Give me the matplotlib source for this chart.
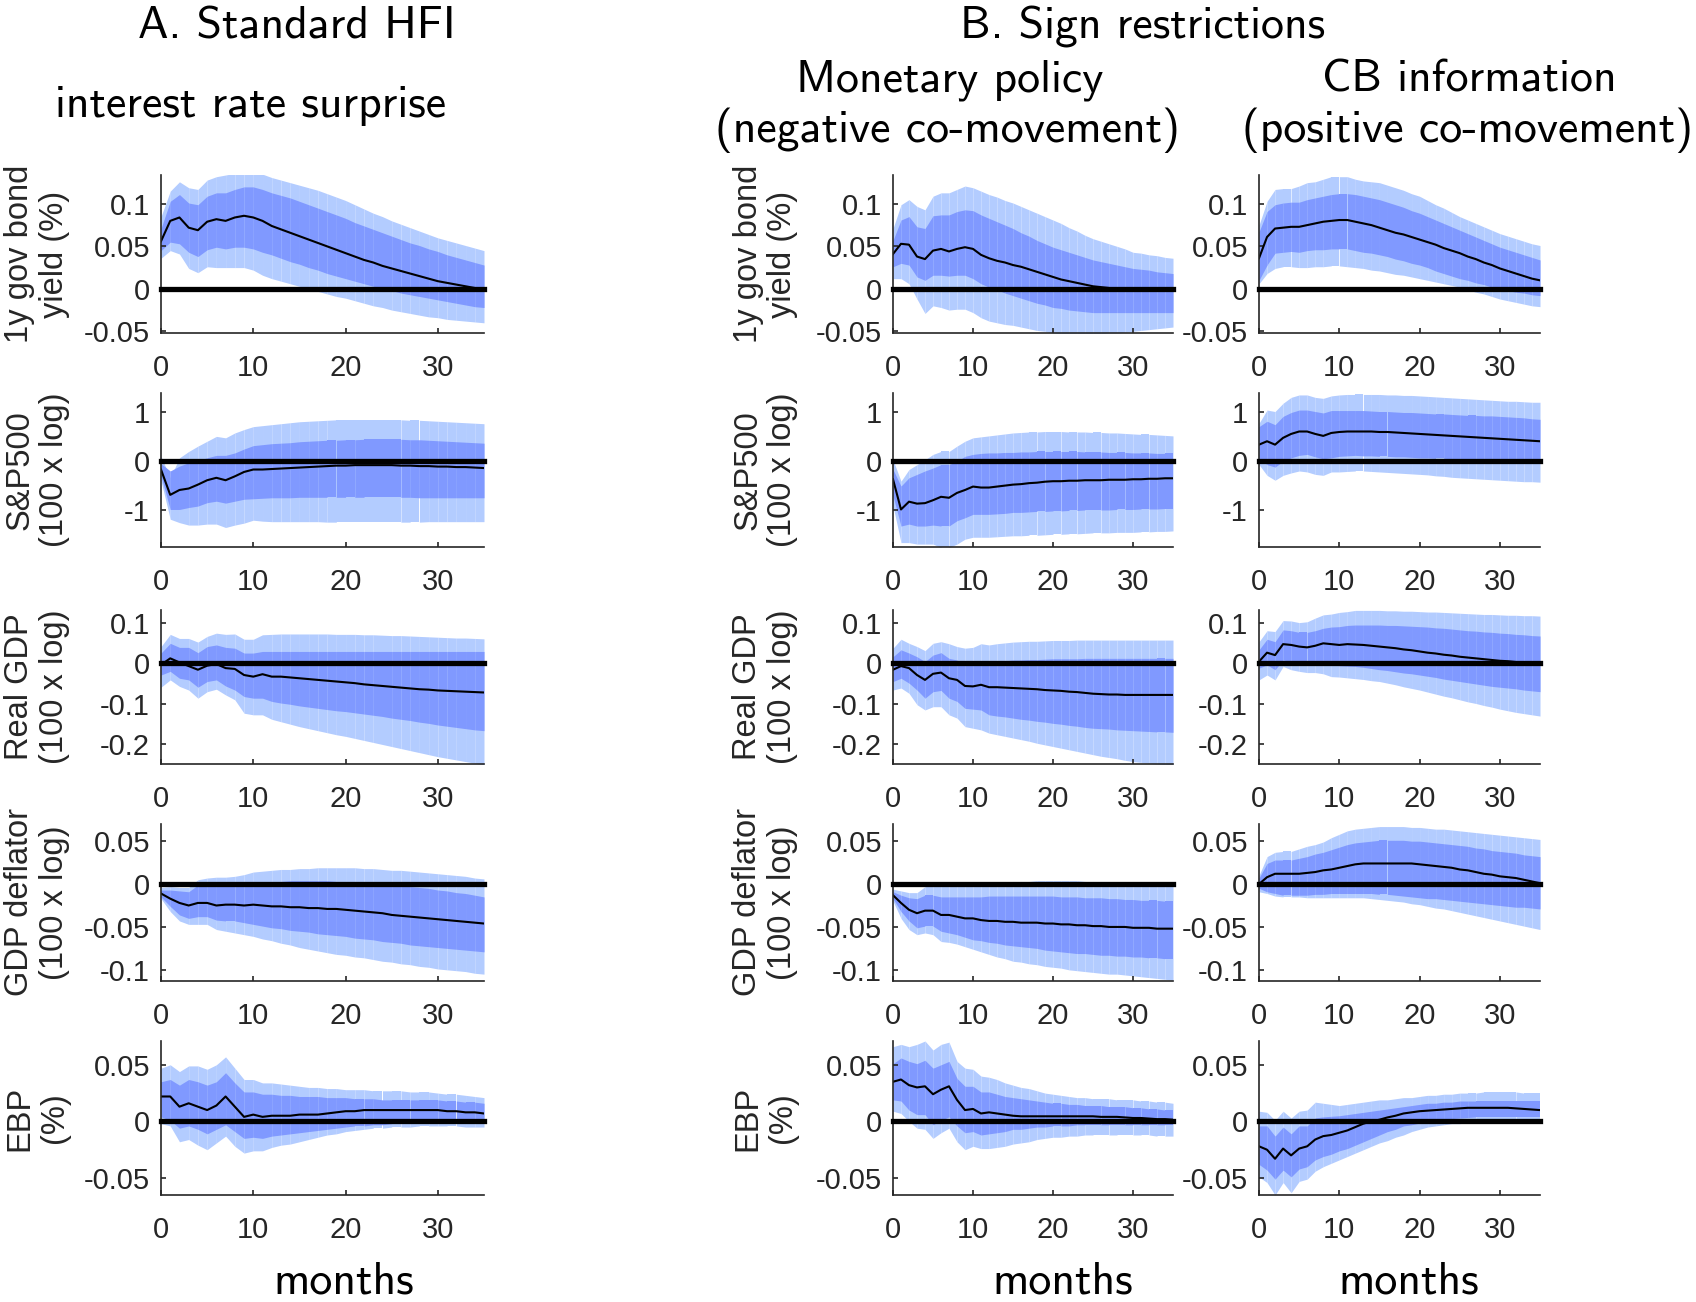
import numpy as np
import matplotlib
matplotlib.use("Agg")
import matplotlib.pyplot as plt

plt.rcParams["font.family"] = "Liberation Sans"

# horizon in months
months = np.arange(36)

# ---------------- A. Standard HFI (interest rate surprise) ----------------
a_gs1_med = [0.056, 0.080, 0.084, 0.072, 0.069, 0.079, 0.082, 0.080, 0.084, 0.086, 0.084, 0.080, 0.074, 0.070, 0.066, 0.062, 0.058, 0.054, 0.050, 0.046, 0.042, 0.038, 0.034, 0.031, 0.027, 0.024, 0.021, 0.018, 0.015, 0.012, 0.009, 0.007, 0.005, 0.003, 0.001, 0.000]
a_gs1_hi68 = [0.071, 0.103, 0.111, 0.101, 0.099, 0.109, 0.113, 0.113, 0.117, 0.120, 0.120, 0.117, 0.113, 0.110, 0.107, 0.103, 0.099, 0.095, 0.091, 0.087, 0.083, 0.078, 0.074, 0.070, 0.066, 0.062, 0.058, 0.054, 0.051, 0.047, 0.044, 0.040, 0.037, 0.034, 0.031, 0.028]
a_gs1_lo68 = [0.045, 0.055, 0.053, 0.043, 0.038, 0.046, 0.049, 0.047, 0.049, 0.049, 0.047, 0.043, 0.040, 0.036, 0.032, 0.029, 0.025, 0.022, 0.018, 0.015, 0.012, 0.009, 0.006, 0.003, 0.000, -0.002, -0.005, -0.007, -0.009, -0.011, -0.013, -0.015, -0.017, -0.019, -0.021, -0.022]
a_gs1_hi90 = [0.085, 0.115, 0.126, 0.119, 0.117, 0.128, 0.132, 0.134, 0.136, 0.137, 0.137, 0.135, 0.131, 0.128, 0.125, 0.122, 0.119, 0.116, 0.112, 0.108, 0.104, 0.099, 0.094, 0.089, 0.085, 0.080, 0.076, 0.072, 0.068, 0.064, 0.060, 0.057, 0.054, 0.051, 0.048, 0.045]
a_gs1_lo90 = [0.036, 0.045, 0.041, 0.024, 0.019, 0.026, 0.025, 0.025, 0.025, 0.025, 0.022, 0.016, 0.012, 0.009, 0.006, 0.003, 0.000, -0.003, -0.006, -0.009, -0.011, -0.014, -0.017, -0.020, -0.022, -0.025, -0.027, -0.029, -0.031, -0.033, -0.034, -0.036, -0.037, -0.038, -0.039, -0.040]

a_sp_med = [-0.17, -0.69, -0.59, -0.56, -0.48, -0.39, -0.34, -0.39, -0.31, -0.22, -0.17, -0.17, -0.16, -0.15, -0.14, -0.13, -0.12, -0.11, -0.10, -0.09, -0.09, -0.08, -0.08, -0.08, -0.08, -0.08, -0.09, -0.09, -0.10, -0.10, -0.11, -0.11, -0.12, -0.12, -0.13, -0.14]
a_sp_hi68 = [-0.05, -0.20, -0.10, -0.03, 0.02, 0.07, 0.12, 0.12, 0.17, 0.25, 0.32, 0.34, 0.36, 0.37, 0.38, 0.40, 0.41, 0.42, 0.43, 0.43, 0.44, 0.44, 0.45, 0.45, 0.45, 0.45, 0.45, 0.44, 0.44, 0.43, 0.42, 0.41, 0.40, 0.39, 0.38, 0.37]
a_sp_lo68 = [-0.30, -0.99, -0.99, -0.95, -0.92, -0.85, -0.82, -0.86, -0.82, -0.78, -0.77, -0.76, -0.75, -0.75, -0.75, -0.74, -0.74, -0.74, -0.74, -0.74, -0.74, -0.74, -0.74, -0.74, -0.74, -0.74, -0.74, -0.74, -0.75, -0.75, -0.75, -0.75, -0.75, -0.75, -0.75, -0.75]
a_sp_hi90 = [0.10, -0.34, 0.07, 0.20, 0.31, 0.41, 0.51, 0.48, 0.58, 0.65, 0.71, 0.73, 0.75, 0.77, 0.79, 0.81, 0.82, 0.83, 0.84, 0.85, 0.85, 0.85, 0.85, 0.85, 0.85, 0.85, 0.85, 0.84, 0.84, 0.83, 0.82, 0.81, 0.80, 0.79, 0.78, 0.77]
a_sp_lo90 = [-0.40, -1.19, -1.26, -1.31, -1.31, -1.29, -1.29, -1.36, -1.31, -1.27, -1.21, -1.23, -1.24, -1.24, -1.24, -1.24, -1.24, -1.24, -1.25, -1.25, -1.25, -1.25, -1.25, -1.25, -1.25, -1.25, -1.25, -1.25, -1.25, -1.24, -1.24, -1.24, -1.24, -1.24, -1.24, -1.24]

a_gdp_med = [-0.004, 0.012, 0.002, -0.007, -0.016, -0.006, -0.002, -0.012, -0.014, -0.029, -0.033, -0.027, -0.033, -0.033, -0.035, -0.037, -0.039, -0.041, -0.043, -0.045, -0.047, -0.049, -0.052, -0.054, -0.056, -0.058, -0.060, -0.062, -0.064, -0.065, -0.067, -0.068, -0.069, -0.070, -0.071, -0.072]
a_gdp_hi68 = [0.025, 0.049, 0.039, 0.039, 0.026, 0.041, 0.045, 0.039, 0.037, 0.025, 0.025, 0.029, 0.029, 0.029, 0.029, 0.029, 0.029, 0.029, 0.029, 0.029, 0.029, 0.029, 0.029, 0.029, 0.029, 0.029, 0.029, 0.029, 0.029, 0.029, 0.029, 0.029, 0.029, 0.029, 0.029, 0.029]
a_gdp_lo68 = [-0.029, -0.020, -0.037, -0.041, -0.059, -0.045, -0.041, -0.056, -0.066, -0.082, -0.086, -0.086, -0.094, -0.098, -0.101, -0.105, -0.108, -0.111, -0.114, -0.117, -0.119, -0.122, -0.125, -0.128, -0.131, -0.135, -0.138, -0.141, -0.145, -0.148, -0.152, -0.155, -0.158, -0.161, -0.164, -0.166]
a_gdp_hi90 = [0.041, 0.071, 0.061, 0.061, 0.052, 0.066, 0.074, 0.071, 0.072, 0.059, 0.059, 0.070, 0.071, 0.072, 0.072, 0.072, 0.072, 0.072, 0.072, 0.071, 0.071, 0.071, 0.070, 0.070, 0.069, 0.068, 0.068, 0.067, 0.066, 0.065, 0.064, 0.063, 0.062, 0.062, 0.061, 0.060]
a_gdp_lo90 = [-0.059, -0.041, -0.057, -0.066, -0.086, -0.070, -0.064, -0.078, -0.090, -0.123, -0.127, -0.127, -0.138, -0.144, -0.150, -0.156, -0.161, -0.166, -0.171, -0.176, -0.180, -0.185, -0.190, -0.195, -0.200, -0.205, -0.210, -0.215, -0.220, -0.225, -0.230, -0.234, -0.238, -0.242, -0.246, -0.250]

a_defl_med = [-0.011, -0.017, -0.022, -0.025, -0.022, -0.022, -0.025, -0.024, -0.024, -0.025, -0.024, -0.025, -0.026, -0.026, -0.027, -0.027, -0.028, -0.028, -0.029, -0.029, -0.030, -0.031, -0.032, -0.033, -0.034, -0.036, -0.037, -0.038, -0.039, -0.040, -0.041, -0.042, -0.043, -0.044, -0.045, -0.046]
a_defl_hi68 = [-0.007, -0.007, -0.008, -0.009, -0.001, 0.001, 0.002, 0.002, 0.002, 0.003, 0.003, 0.003, 0.003, 0.003, 0.004, 0.004, 0.004, 0.004, 0.004, 0.003, 0.003, 0.003, 0.002, 0.002, 0.001, -0.001, -0.002, -0.003, -0.004, -0.005, -0.007, -0.008, -0.010, -0.011, -0.013, -0.015]
a_defl_lo68 = [-0.015, -0.026, -0.036, -0.040, -0.038, -0.038, -0.042, -0.043, -0.043, -0.045, -0.047, -0.049, -0.051, -0.052, -0.054, -0.055, -0.056, -0.058, -0.059, -0.060, -0.061, -0.063, -0.064, -0.065, -0.067, -0.068, -0.069, -0.071, -0.072, -0.073, -0.074, -0.075, -0.076, -0.077, -0.078, -0.079]
a_defl_hi90 = [-0.004, -0.003, -0.004, -0.004, 0.005, 0.007, 0.008, 0.008, 0.009, 0.011, 0.014, 0.015, 0.016, 0.017, 0.017, 0.018, 0.018, 0.019, 0.019, 0.019, 0.019, 0.019, 0.018, 0.018, 0.017, 0.016, 0.016, 0.015, 0.014, 0.013, 0.012, 0.011, 0.010, 0.009, 0.007, 0.006]
a_defl_lo90 = [-0.017, -0.032, -0.043, -0.047, -0.047, -0.047, -0.053, -0.055, -0.057, -0.059, -0.061, -0.064, -0.066, -0.069, -0.071, -0.074, -0.076, -0.078, -0.080, -0.082, -0.083, -0.085, -0.086, -0.088, -0.090, -0.091, -0.093, -0.094, -0.096, -0.097, -0.099, -0.100, -0.101, -0.102, -0.104, -0.105]

a_ebp_med = [0.022, 0.022, 0.013, 0.016, 0.013, 0.010, 0.014, 0.022, 0.013, 0.004, 0.006, 0.004, 0.005, 0.005, 0.005, 0.006, 0.006, 0.006, 0.007, 0.008, 0.009, 0.009, 0.010, 0.010, 0.010, 0.010, 0.010, 0.010, 0.010, 0.010, 0.010, 0.009, 0.009, 0.008, 0.008, 0.007]
a_ebp_hi68 = [0.035, 0.037, 0.032, 0.037, 0.035, 0.032, 0.035, 0.043, 0.034, 0.026, 0.026, 0.024, 0.024, 0.023, 0.023, 0.022, 0.022, 0.022, 0.021, 0.021, 0.021, 0.020, 0.020, 0.020, 0.019, 0.019, 0.019, 0.019, 0.019, 0.019, 0.019, 0.018, 0.018, 0.017, 0.017, 0.016]
a_ebp_lo68 = [0.004, 0.001, -0.006, -0.004, -0.007, -0.011, -0.007, -0.003, -0.009, -0.015, -0.014, -0.015, -0.013, -0.012, -0.011, -0.010, -0.009, -0.008, -0.007, -0.006, -0.005, -0.004, -0.004, -0.003, -0.003, -0.002, -0.002, -0.002, -0.001, -0.001, -0.001, -0.001, -0.001, -0.001, -0.001, -0.001]
a_ebp_hi90 = [0.047, 0.050, 0.044, 0.049, 0.049, 0.046, 0.050, 0.057, 0.047, 0.037, 0.037, 0.034, 0.034, 0.033, 0.032, 0.031, 0.030, 0.030, 0.029, 0.029, 0.028, 0.028, 0.028, 0.027, 0.027, 0.027, 0.027, 0.026, 0.026, 0.026, 0.025, 0.024, 0.024, 0.023, 0.022, 0.021]
a_ebp_lo90 = [-0.002, -0.004, -0.018, -0.016, -0.021, -0.025, -0.019, -0.013, -0.022, -0.028, -0.026, -0.026, -0.023, -0.021, -0.020, -0.018, -0.016, -0.014, -0.012, -0.011, -0.009, -0.008, -0.007, -0.006, -0.006, -0.005, -0.005, -0.005, -0.004, -0.004, -0.004, -0.004, -0.004, -0.005, -0.005, -0.005]

# ---------------- B. Monetary policy (negative co-movement) ----------------
b_gs1_med = [0.041, 0.053, 0.052, 0.038, 0.035, 0.045, 0.047, 0.044, 0.047, 0.049, 0.047, 0.040, 0.036, 0.033, 0.031, 0.028, 0.026, 0.023, 0.020, 0.017, 0.014, 0.011, 0.009, 0.007, 0.005, 0.003, 0.002, 0.001, 0.000, -0.001, -0.001, -0.001, -0.001, -0.001, -0.001, -0.001]
b_gs1_hi68 = [0.057, 0.081, 0.085, 0.073, 0.071, 0.086, 0.087, 0.087, 0.091, 0.093, 0.092, 0.087, 0.083, 0.079, 0.075, 0.071, 0.066, 0.062, 0.057, 0.053, 0.049, 0.046, 0.043, 0.040, 0.037, 0.034, 0.032, 0.030, 0.028, 0.026, 0.024, 0.023, 0.022, 0.020, 0.019, 0.018]
b_gs1_lo68 = [0.026, 0.030, 0.028, 0.014, 0.010, 0.016, 0.016, 0.015, 0.016, 0.016, 0.012, 0.006, 0.002, -0.001, -0.005, -0.008, -0.011, -0.014, -0.017, -0.019, -0.022, -0.023, -0.025, -0.026, -0.027, -0.028, -0.028, -0.028, -0.028, -0.028, -0.028, -0.028, -0.028, -0.028, -0.028, -0.028]
b_gs1_hi90 = [0.071, 0.099, 0.105, 0.097, 0.093, 0.109, 0.113, 0.113, 0.117, 0.121, 0.119, 0.115, 0.111, 0.108, 0.104, 0.101, 0.097, 0.093, 0.089, 0.085, 0.081, 0.077, 0.072, 0.068, 0.063, 0.059, 0.056, 0.053, 0.050, 0.047, 0.043, 0.042, 0.040, 0.039, 0.037, 0.036]
b_gs1_lo90 = [0.012, 0.012, 0.006, -0.012, -0.029, -0.020, -0.022, -0.025, -0.024, -0.024, -0.028, -0.034, -0.038, -0.040, -0.042, -0.043, -0.045, -0.047, -0.049, -0.050, -0.052, -0.053, -0.053, -0.053, -0.053, -0.053, -0.053, -0.052, -0.052, -0.051, -0.050, -0.049, -0.048, -0.047, -0.046, -0.045]

b_sp_med = [-0.37, -0.99, -0.83, -0.87, -0.86, -0.80, -0.73, -0.75, -0.65, -0.59, -0.52, -0.54, -0.54, -0.52, -0.50, -0.48, -0.47, -0.45, -0.44, -0.42, -0.41, -0.41, -0.40, -0.40, -0.39, -0.39, -0.39, -0.38, -0.38, -0.38, -0.37, -0.37, -0.36, -0.36, -0.35, -0.35]
b_sp_hi68 = [-0.17, -0.51, -0.34, -0.27, -0.20, -0.14, -0.07, -0.07, 0.00, 0.10, 0.14, 0.16, 0.17, 0.17, 0.18, 0.18, 0.19, 0.19, 0.20, 0.20, 0.20, 0.20, 0.20, 0.20, 0.19, 0.19, 0.19, 0.18, 0.18, 0.18, 0.17, 0.17, 0.17, 0.16, 0.16, 0.16]
b_sp_lo68 = [-0.71, -1.33, -1.29, -1.33, -1.33, -1.31, -1.33, -1.33, -1.22, -1.16, -1.09, -1.09, -1.09, -1.08, -1.07, -1.05, -1.05, -1.04, -1.03, -1.03, -1.02, -1.02, -1.01, -1.01, -1.00, -1.00, -1.00, -1.00, -0.99, -0.99, -0.99, -0.98, -0.98, -0.98, -0.97, -0.97]
b_sp_hi90 = [0.03, -0.41, -0.17, -0.07, 0.03, 0.14, 0.20, 0.20, 0.31, 0.41, 0.48, 0.50, 0.52, 0.54, 0.56, 0.58, 0.59, 0.60, 0.60, 0.61, 0.61, 0.61, 0.60, 0.60, 0.60, 0.59, 0.59, 0.58, 0.58, 0.57, 0.56, 0.55, 0.55, 0.54, 0.53, 0.52]
b_sp_lo90 = [-0.92, -1.67, -1.67, -1.70, -1.70, -1.70, -1.77, -1.77, -1.70, -1.60, -1.56, -1.56, -1.56, -1.55, -1.54, -1.53, -1.53, -1.52, -1.52, -1.51, -1.50, -1.50, -1.49, -1.49, -1.48, -1.47, -1.47, -1.47, -1.46, -1.46, -1.46, -1.45, -1.45, -1.44, -1.44, -1.43]

b_gdp_med = [-0.016, -0.007, -0.012, -0.029, -0.041, -0.026, -0.023, -0.037, -0.041, -0.056, -0.057, -0.053, -0.059, -0.059, -0.060, -0.061, -0.062, -0.063, -0.064, -0.066, -0.067, -0.068, -0.070, -0.071, -0.073, -0.075, -0.076, -0.077, -0.077, -0.078, -0.078, -0.078, -0.078, -0.078, -0.078, -0.078]
b_gdp_hi68 = [0.016, 0.033, 0.025, 0.016, 0.004, 0.020, 0.026, 0.012, 0.008, -0.004, -0.004, 0.002, 0.004, 0.005, 0.006, 0.008, 0.008, 0.009, 0.009, 0.010, 0.011, 0.011, 0.011, 0.011, 0.012, 0.012, 0.012, 0.012, 0.012, 0.012, 0.012, 0.012, 0.012, 0.012, 0.012, 0.012]
b_gdp_lo68 = [-0.045, -0.037, -0.049, -0.066, -0.086, -0.070, -0.067, -0.086, -0.094, -0.111, -0.113, -0.115, -0.127, -0.130, -0.132, -0.135, -0.138, -0.140, -0.143, -0.145, -0.148, -0.150, -0.153, -0.155, -0.158, -0.160, -0.161, -0.162, -0.164, -0.165, -0.166, -0.167, -0.168, -0.169, -0.169, -0.170]
b_gdp_hi90 = [0.037, 0.059, 0.049, 0.041, 0.031, 0.049, 0.053, 0.048, 0.041, 0.037, 0.039, 0.048, 0.045, 0.048, 0.050, 0.052, 0.053, 0.054, 0.054, 0.055, 0.056, 0.056, 0.056, 0.057, 0.057, 0.057, 0.057, 0.057, 0.057, 0.057, 0.057, 0.057, 0.057, 0.057, 0.057, 0.057]
b_gdp_lo90 = [-0.066, -0.061, -0.074, -0.102, -0.115, -0.107, -0.107, -0.127, -0.135, -0.156, -0.160, -0.164, -0.172, -0.176, -0.180, -0.184, -0.188, -0.192, -0.197, -0.201, -0.205, -0.209, -0.213, -0.217, -0.221, -0.225, -0.229, -0.232, -0.235, -0.239, -0.242, -0.244, -0.246, -0.248, -0.249, -0.250]

b_defl_med = [-0.013, -0.022, -0.030, -0.034, -0.031, -0.031, -0.036, -0.036, -0.038, -0.040, -0.040, -0.042, -0.043, -0.043, -0.044, -0.044, -0.045, -0.045, -0.045, -0.046, -0.046, -0.047, -0.047, -0.048, -0.048, -0.049, -0.049, -0.050, -0.050, -0.050, -0.051, -0.051, -0.051, -0.052, -0.052, -0.052]
b_defl_hi68 = [-0.009, -0.013, -0.016, -0.017, -0.013, -0.013, -0.015, -0.015, -0.015, -0.015, -0.015, -0.015, -0.014, -0.014, -0.014, -0.014, -0.014, -0.014, -0.014, -0.014, -0.014, -0.015, -0.015, -0.015, -0.016, -0.016, -0.016, -0.017, -0.017, -0.018, -0.018, -0.019, -0.019, -0.019, -0.020, -0.020]
b_defl_lo68 = [-0.017, -0.032, -0.043, -0.051, -0.049, -0.049, -0.055, -0.057, -0.059, -0.062, -0.065, -0.066, -0.068, -0.069, -0.071, -0.072, -0.073, -0.074, -0.075, -0.077, -0.078, -0.079, -0.080, -0.081, -0.081, -0.082, -0.083, -0.083, -0.084, -0.084, -0.085, -0.085, -0.086, -0.086, -0.087, -0.087]
b_defl_hi90 = [-0.006, -0.008, -0.010, -0.010, -0.003, -0.002, -0.002, -0.003, -0.002, -0.002, -0.001, 0.000, 0.001, 0.001, 0.002, 0.003, 0.003, 0.003, 0.004, 0.004, 0.004, 0.004, 0.004, 0.004, 0.003, 0.003, 0.003, 0.003, 0.002, 0.002, 0.002, 0.001, 0.001, 0.000, 0.000, -0.001]
b_defl_lo90 = [-0.020, -0.040, -0.053, -0.059, -0.057, -0.059, -0.067, -0.068, -0.070, -0.073, -0.076, -0.079, -0.082, -0.085, -0.087, -0.090, -0.091, -0.093, -0.094, -0.096, -0.097, -0.098, -0.100, -0.101, -0.102, -0.103, -0.104, -0.105, -0.105, -0.106, -0.107, -0.108, -0.109, -0.110, -0.111, -0.112]

b_ebp_med = [0.035, 0.037, 0.032, 0.030, 0.031, 0.024, 0.028, 0.031, 0.019, 0.010, 0.011, 0.007, 0.008, 0.007, 0.006, 0.005, 0.0045, 0.0045, 0.0045, 0.0045, 0.0045, 0.0045, 0.0045, 0.0045, 0.0045, 0.0045, 0.004, 0.004, 0.004, 0.0035, 0.003, 0.003, 0.0025, 0.002, 0.002, 0.0015]
b_ebp_hi68 = [0.051, 0.056, 0.053, 0.051, 0.054, 0.047, 0.050, 0.053, 0.038, 0.031, 0.031, 0.026, 0.026, 0.024, 0.022, 0.021, 0.020, 0.019, 0.018, 0.017, 0.016, 0.016, 0.015, 0.015, 0.014, 0.014, 0.014, 0.013, 0.013, 0.013, 0.012, 0.012, 0.011, 0.011, 0.010, 0.010]
b_ebp_lo68 = [0.019, 0.018, 0.010, 0.006, 0.006, -0.003, 0.001, 0.004, -0.004, -0.010, -0.009, -0.012, -0.011, -0.010, -0.009, -0.007, -0.007, -0.006, -0.005, -0.005, -0.004, -0.004, -0.004, -0.003, -0.003, -0.003, -0.003, -0.003, -0.003, -0.003, -0.003, -0.003, -0.003, -0.003, -0.003, -0.003]
b_ebp_hi90 = [0.066, 0.068, 0.066, 0.068, 0.071, 0.063, 0.068, 0.070, 0.053, 0.047, 0.046, 0.040, 0.039, 0.037, 0.034, 0.032, 0.030, 0.029, 0.027, 0.025, 0.024, 0.023, 0.022, 0.021, 0.021, 0.020, 0.020, 0.020, 0.019, 0.019, 0.019, 0.018, 0.018, 0.017, 0.017, 0.016]
b_ebp_lo90 = [0.009, 0.007, 0.000, -0.006, -0.007, -0.015, -0.010, -0.006, -0.018, -0.025, -0.022, -0.024, -0.024, -0.023, -0.022, -0.020, -0.019, -0.018, -0.016, -0.015, -0.014, -0.014, -0.013, -0.013, -0.012, -0.012, -0.012, -0.012, -0.012, -0.012, -0.012, -0.012, -0.012, -0.013, -0.013, -0.013]

# ---------------- B. CB information (positive co-movement) ----------------
c_gs1_med = [0.036, 0.061, 0.071, 0.072, 0.073, 0.073, 0.075, 0.077, 0.079, 0.080, 0.081, 0.081, 0.079, 0.077, 0.075, 0.072, 0.069, 0.066, 0.064, 0.061, 0.058, 0.055, 0.052, 0.048, 0.045, 0.042, 0.038, 0.035, 0.031, 0.028, 0.024, 0.021, 0.018, 0.015, 0.012, 0.010]
c_gs1_hi68 = [0.067, 0.091, 0.099, 0.101, 0.102, 0.102, 0.105, 0.107, 0.109, 0.111, 0.112, 0.112, 0.111, 0.109, 0.107, 0.105, 0.102, 0.099, 0.096, 0.092, 0.089, 0.085, 0.081, 0.077, 0.073, 0.069, 0.065, 0.061, 0.057, 0.053, 0.049, 0.046, 0.043, 0.040, 0.037, 0.034]
c_gs1_lo68 = [0.010, 0.028, 0.042, 0.043, 0.044, 0.043, 0.045, 0.046, 0.046, 0.047, 0.047, 0.047, 0.045, 0.043, 0.042, 0.040, 0.038, 0.035, 0.033, 0.030, 0.028, 0.025, 0.021, 0.018, 0.015, 0.012, 0.010, 0.007, 0.005, 0.002, 0.000, -0.002, -0.004, -0.005, -0.007, -0.008]
c_gs1_hi90 = [0.075, 0.103, 0.117, 0.118, 0.118, 0.121, 0.125, 0.126, 0.129, 0.132, 0.132, 0.132, 0.129, 0.127, 0.126, 0.125, 0.122, 0.119, 0.116, 0.112, 0.109, 0.104, 0.099, 0.095, 0.090, 0.085, 0.081, 0.077, 0.073, 0.069, 0.065, 0.062, 0.059, 0.056, 0.053, 0.051]
c_gs1_lo90 = [0.006, 0.018, 0.024, 0.026, 0.026, 0.025, 0.025, 0.026, 0.026, 0.027, 0.027, 0.026, 0.025, 0.024, 0.022, 0.021, 0.019, 0.017, 0.016, 0.014, 0.012, 0.010, 0.008, 0.006, 0.004, 0.002, -0.001, -0.004, -0.006, -0.009, -0.012, -0.014, -0.016, -0.018, -0.020, -0.021]

c_sp_med = [0.34, 0.41, 0.34, 0.48, 0.56, 0.61, 0.61, 0.56, 0.52, 0.58, 0.60, 0.61, 0.61, 0.61, 0.61, 0.60, 0.60, 0.59, 0.58, 0.57, 0.56, 0.55, 0.54, 0.53, 0.52, 0.51, 0.50, 0.49, 0.48, 0.47, 0.46, 0.45, 0.44, 0.43, 0.42, 0.41]
c_sp_hi68 = [0.71, 0.82, 0.75, 0.92, 1.00, 1.05, 1.05, 1.02, 0.99, 1.04, 1.04, 1.04, 1.04, 1.04, 1.03, 1.02, 1.02, 1.01, 1.00, 1.00, 0.99, 0.98, 0.97, 0.97, 0.96, 0.95, 0.94, 0.94, 0.93, 0.93, 0.92, 0.91, 0.90, 0.89, 0.87, 0.86]
c_sp_lo68 = [0.07, -0.07, -0.12, 0.00, 0.07, 0.12, 0.14, 0.09, 0.05, 0.07, 0.10, 0.11, 0.12, 0.11, 0.11, 0.10, 0.10, 0.09, 0.09, 0.08, 0.07, 0.07, 0.06, 0.06, 0.05, 0.05, 0.04, 0.04, 0.04, 0.03, 0.03, 0.02, 0.02, 0.02, 0.01, 0.01]
c_sp_hi90 = [0.78, 1.05, 1.02, 1.19, 1.31, 1.36, 1.36, 1.31, 1.29, 1.34, 1.36, 1.37, 1.37, 1.37, 1.37, 1.37, 1.36, 1.36, 1.35, 1.35, 1.34, 1.33, 1.32, 1.31, 1.30, 1.29, 1.28, 1.27, 1.26, 1.25, 1.24, 1.23, 1.23, 1.22, 1.21, 1.21]
c_sp_lo90 = [-0.07, -0.29, -0.39, -0.29, -0.24, -0.20, -0.22, -0.27, -0.29, -0.22, -0.22, -0.21, -0.20, -0.20, -0.21, -0.22, -0.23, -0.24, -0.25, -0.26, -0.27, -0.28, -0.30, -0.31, -0.33, -0.34, -0.35, -0.36, -0.37, -0.38, -0.39, -0.40, -0.41, -0.42, -0.42, -0.43]

c_gdp_med = [0.004, 0.026, 0.020, 0.047, 0.045, 0.041, 0.039, 0.043, 0.049, 0.047, 0.045, 0.047, 0.046, 0.045, 0.043, 0.041, 0.039, 0.037, 0.034, 0.032, 0.029, 0.026, 0.024, 0.021, 0.019, 0.016, 0.014, 0.012, 0.010, 0.008, 0.006, 0.005, 0.003, 0.002, 0.001, 0.000]
c_gdp_hi68 = [0.033, 0.059, 0.053, 0.082, 0.080, 0.076, 0.076, 0.080, 0.086, 0.089, 0.090, 0.093, 0.094, 0.094, 0.094, 0.094, 0.093, 0.093, 0.092, 0.091, 0.090, 0.089, 0.087, 0.086, 0.084, 0.082, 0.080, 0.079, 0.077, 0.076, 0.074, 0.073, 0.071, 0.070, 0.068, 0.067]
c_gdp_lo68 = [-0.012, -0.004, -0.016, 0.008, 0.004, 0.000, 0.000, -0.002, 0.000, -0.004, -0.006, -0.007, -0.008, -0.010, -0.013, -0.016, -0.018, -0.021, -0.024, -0.026, -0.029, -0.032, -0.035, -0.039, -0.042, -0.045, -0.048, -0.051, -0.054, -0.057, -0.059, -0.061, -0.063, -0.066, -0.068, -0.070]
c_gdp_hi90 = [0.053, 0.080, 0.078, 0.105, 0.104, 0.100, 0.102, 0.111, 0.119, 0.121, 0.125, 0.127, 0.130, 0.130, 0.130, 0.130, 0.129, 0.129, 0.128, 0.128, 0.127, 0.126, 0.126, 0.125, 0.124, 0.123, 0.122, 0.121, 0.120, 0.120, 0.119, 0.118, 0.118, 0.117, 0.117, 0.116]
c_gdp_lo90 = [-0.041, -0.029, -0.041, -0.008, -0.016, -0.020, -0.023, -0.023, -0.026, -0.033, -0.034, -0.036, -0.038, -0.040, -0.043, -0.045, -0.049, -0.053, -0.058, -0.062, -0.066, -0.071, -0.076, -0.081, -0.085, -0.090, -0.095, -0.099, -0.104, -0.108, -0.113, -0.117, -0.121, -0.124, -0.127, -0.130]

c_defl_med = [0.000, 0.008, 0.012, 0.012, 0.012, 0.012, 0.013, 0.014, 0.016, 0.017, 0.019, 0.021, 0.023, 0.024, 0.024, 0.024, 0.024, 0.024, 0.024, 0.024, 0.023, 0.022, 0.021, 0.020, 0.019, 0.017, 0.016, 0.014, 0.012, 0.011, 0.009, 0.008, 0.007, 0.005, 0.003, 0.001]
c_defl_hi68 = [0.007, 0.024, 0.028, 0.028, 0.028, 0.030, 0.032, 0.035, 0.037, 0.040, 0.043, 0.046, 0.048, 0.049, 0.050, 0.051, 0.051, 0.051, 0.051, 0.050, 0.050, 0.049, 0.048, 0.047, 0.046, 0.045, 0.044, 0.042, 0.041, 0.039, 0.038, 0.037, 0.036, 0.034, 0.033, 0.032]
c_defl_lo68 = [-0.005, -0.009, -0.011, -0.013, -0.013, -0.013, -0.013, -0.012, -0.012, -0.011, -0.011, -0.011, -0.011, -0.011, -0.011, -0.012, -0.012, -0.013, -0.014, -0.015, -0.016, -0.017, -0.017, -0.018, -0.019, -0.020, -0.021, -0.022, -0.023, -0.024, -0.025, -0.026, -0.027, -0.027, -0.028, -0.029]
c_defl_hi90 = [0.010, 0.032, 0.037, 0.038, 0.038, 0.041, 0.044, 0.046, 0.049, 0.054, 0.058, 0.062, 0.064, 0.065, 0.066, 0.067, 0.067, 0.067, 0.067, 0.066, 0.066, 0.065, 0.064, 0.064, 0.063, 0.062, 0.061, 0.060, 0.059, 0.058, 0.057, 0.056, 0.055, 0.054, 0.053, 0.052]
c_defl_lo90 = [-0.009, -0.011, -0.014, -0.015, -0.015, -0.015, -0.016, -0.016, -0.016, -0.016, -0.016, -0.016, -0.016, -0.016, -0.017, -0.018, -0.019, -0.020, -0.021, -0.023, -0.024, -0.026, -0.028, -0.029, -0.031, -0.033, -0.035, -0.037, -0.039, -0.041, -0.043, -0.045, -0.047, -0.049, -0.051, -0.053]

c_ebp_med = [-0.022, -0.025, -0.033, -0.024, -0.030, -0.024, -0.022, -0.016, -0.013, -0.012, -0.010, -0.008, -0.005, -0.002, 0.000, 0.0015, 0.0035, 0.005, 0.007, 0.008, 0.009, 0.0095, 0.010, 0.0105, 0.011, 0.0115, 0.012, 0.012, 0.012, 0.012, 0.012, 0.012, 0.0115, 0.011, 0.0105, 0.010]
c_ebp_hi68 = [-0.004, -0.004, -0.013, -0.005, -0.011, -0.004, -0.004, 0.003, 0.004, 0.0045, 0.005, 0.006, 0.007, 0.008, 0.009, 0.010, 0.011, 0.012, 0.013, 0.014, 0.015, 0.016, 0.016, 0.017, 0.017, 0.018, 0.018, 0.018, 0.018, 0.018, 0.018, 0.018, 0.018, 0.018, 0.018, 0.018]
c_ebp_lo68 = [-0.038, -0.043, -0.051, -0.043, -0.049, -0.042, -0.040, -0.034, -0.031, -0.029, -0.026, -0.024, -0.021, -0.018, -0.015, -0.012, -0.009, -0.007, -0.004, -0.003, -0.0015, 0.000, 0.001, 0.002, 0.0025, 0.003, 0.0035, 0.004, 0.004, 0.004, 0.004, 0.004, 0.004, 0.004, 0.004, 0.004]
c_ebp_hi90 = [0.009, 0.008, 0.001, 0.009, 0.003, 0.009, 0.010, 0.017, 0.016, 0.015, 0.014, 0.015, 0.016, 0.017, 0.018, 0.019, 0.019, 0.020, 0.021, 0.021, 0.022, 0.023, 0.023, 0.024, 0.024, 0.025, 0.025, 0.025, 0.026, 0.026, 0.026, 0.026, 0.026, 0.025, 0.025, 0.025]
c_ebp_lo90 = [-0.049, -0.054, -0.065, -0.054, -0.063, -0.053, -0.051, -0.044, -0.040, -0.037, -0.034, -0.031, -0.028, -0.025, -0.022, -0.019, -0.017, -0.014, -0.012, -0.009, -0.007, -0.005, -0.004, -0.003, -0.002, -0.002, -0.001, -0.001, -0.001, -0.001, -0.001, -0.001, -0.001, -0.001, -0.001, -0.001]

# row labels, limits and ticks
var_labels = ["1y gov bond\nyield (%)", "S&P500\n(100 x log)", "Real GDP\n(100 x log)",
              "GDP deflator\n(100 x log)", "EBP\n(%)"]
ylims = [(-0.052, 0.134), (-1.76, 1.40), (-0.248, 0.131), (-0.113, 0.070), (-0.065, 0.071)]
yticks = [[-0.05, 0, 0.05, 0.1], [-1, 0, 1], [-0.2, -0.1, 0, 0.1], [-0.1, -0.05, 0, 0.05], [-0.05, 0, 0.05]]
ytick_labels = [["-0.05", "0", "0.05", "0.1"], ["-1", "0", "1"], ["-0.2", "-0.1", "0", "0.1"],
                ["-0.1", "-0.05", "0", "0.05"], ["-0.05", "0", "0.05"]]
xticks = [0, 10, 20, 30]

# columns: (median, lo68, hi68, lo90, hi90) per row
cols = [
    [(a_gs1_med, a_gs1_lo68, a_gs1_hi68, a_gs1_lo90, a_gs1_hi90),
     (a_sp_med, a_sp_lo68, a_sp_hi68, a_sp_lo90, a_sp_hi90),
     (a_gdp_med, a_gdp_lo68, a_gdp_hi68, a_gdp_lo90, a_gdp_hi90),
     (a_defl_med, a_defl_lo68, a_defl_hi68, a_defl_lo90, a_defl_hi90),
     (a_ebp_med, a_ebp_lo68, a_ebp_hi68, a_ebp_lo90, a_ebp_hi90)],
    [(b_gs1_med, b_gs1_lo68, b_gs1_hi68, b_gs1_lo90, b_gs1_hi90),
     (b_sp_med, b_sp_lo68, b_sp_hi68, b_sp_lo90, b_sp_hi90),
     (b_gdp_med, b_gdp_lo68, b_gdp_hi68, b_gdp_lo90, b_gdp_hi90),
     (b_defl_med, b_defl_lo68, b_defl_hi68, b_defl_lo90, b_defl_hi90),
     (b_ebp_med, b_ebp_lo68, b_ebp_hi68, b_ebp_lo90, b_ebp_hi90)],
    [(c_gs1_med, c_gs1_lo68, c_gs1_hi68, c_gs1_lo90, c_gs1_hi90),
     (c_sp_med, c_sp_lo68, c_sp_hi68, c_sp_lo90, c_sp_hi90),
     (c_gdp_med, c_gdp_lo68, c_gdp_hi68, c_gdp_lo90, c_gdp_hi90),
     (c_defl_med, c_defl_lo68, c_defl_hi68, c_defl_lo90, c_defl_hi90),
     (c_ebp_med, c_ebp_lo68, c_ebp_hi68, c_ebp_lo90, c_ebp_hi90)],
]

W, H = 1696, 1302
fig = plt.figure(figsize=(W / 100, H / 100), dpi=100)

col_x = [(161, 323), (893, 280), (1259, 281)]
row_y = [(175, 333), (393, 547), (610, 764), (824, 981), (1041, 1195)]
label_x = [(20, 55), (748, 782)]

dark = "#262626"
band90 = "#b3ccff"
band68 = "#8099ff"
title_font = "cmss10"

for ci, (x0, w) in enumerate(col_x):
    for ri, (top, bot) in enumerate(row_y):
        ax = fig.add_axes([x0 / W, 1 - bot / H, w / W, (bot - top) / H])
        med, lo68, hi68, lo90, hi90 = cols[ci][ri]
        # one patch per month, like the original patch plot (gives the faint seams)
        for m in range(len(months) - 1):
            sl = slice(m, m + 2)
            ax.fill_between(months[sl], lo90[sl], hi90[sl], color=band90, lw=0)
        for m in range(len(months) - 1):
            sl = slice(m, m + 2)
            ax.fill_between(months[sl], lo68[sl], hi68[sl], color=band68, lw=0)
        ax.plot(months, med, color="black", lw=1.5)
        ax.plot([0, 35], [0, 0], color="black", lw=3.8, clip_on=False,
                solid_capstyle="projecting", zorder=5)
        ax.set_xlim(0, 35)
        ax.set_ylim(*ylims[ri])
        ax.set_xticks(xticks)
        ax.set_xticklabels([str(t) for t in xticks])
        ax.set_yticks(yticks[ri])
        ax.set_yticklabels(ytick_labels[ri])
        for s in ["top", "right"]:
            ax.spines[s].set_visible(False)
        for s in ["left", "bottom"]:
            ax.spines[s].set_color(dark)
            ax.spines[s].set_linewidth(1.2)
        ax.tick_params(direction="in", length=3.5, width=1.2, colors=dark, labelsize=21)
        ax.tick_params(axis="x", pad=15)
        ax.tick_params(axis="y", pad=8)
        if ci < 2:
            yc = 1 - (top + bot) / 2 / H
            line1, line2 = var_labels[ri].split("\n")
            fig.text(label_x[ci][0] / W, yc, line1, rotation=90, ha="center", va="center",
                     fontsize=23.5, color=dark)
            fig.text(label_x[ci][1] / W, yc, line2, rotation=90, ha="center", va="center",
                     fontsize=23.5, color=dark)

def ftext(x, y, s):
    fig.text(x / W, 1 - y / H, s, ha="center", va="center", fontsize=33,
             family=title_font, color="black")

ftext(297, 27, "A. Standard HFI")
ftext(251, 105, "interest rate surprise")
ftext(1143, 27, "B. Sign restrictions")
ftext(950, 80, "Monetary policy")
ftext(947, 130, "(negative co-movement)")
ftext(1469, 80, "CB information")
ftext(1467, 130, "(positive co-movement)")
for mx in [344, 1063, 1409]:
    ftext(mx, 1282, "months")

fig.savefig("out.png", dpi=100)
